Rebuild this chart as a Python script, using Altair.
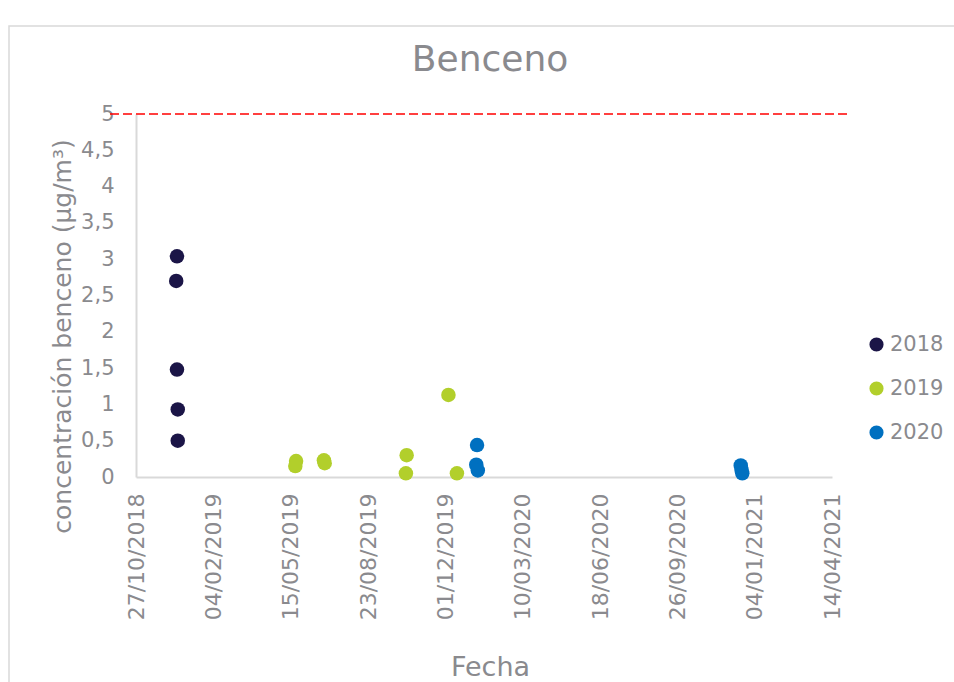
import altair as alt
import pandas as pd

# Benzene concentration samples (µg/m³) by campaign year
fechas_2018 = ["2018-12-19", "2018-12-18", "2018-12-19", "2018-12-20", "2018-12-20"]
valores_2018 = [3.04, 2.70, 1.48, 0.93, 0.50]

fechas_2019 = ["2019-05-22", "2019-05-21", "2019-06-27", "2019-06-28",
               "2019-10-12", "2019-10-11", "2019-12-05", "2019-12-16"]
valores_2019 = [0.22, 0.15, 0.23, 0.19, 0.30, 0.05, 1.13, 0.05]

fechas_2020 = ["2020-01-11", "2020-01-10", "2020-01-12",
               "2020-12-17", "2020-12-18", "2020-12-19"]
valores_2020 = [0.44, 0.17, 0.09, 0.16, 0.10, 0.05]

series = ["2018", "2019", "2020"]
colores = ["#1b1547", "#b2cf2b", "#0070c0"]

# x-axis tick dates, every 100 days
ticks_x = ["2018-10-27", "2019-02-04", "2019-05-15", "2019-08-23", "2019-12-01",
           "2020-03-10", "2020-06-18", "2020-09-26", "2021-01-04", "2021-04-14"]
ticks_y = [0, 0.5, 1, 1.5, 2, 2.5, 3, 3.5, 4, 4.5, 5]
valor_limite = 5
titulo = "Benceno"

filas = []
for serie, fechas, valores in [("2018", fechas_2018, valores_2018),
                               ("2019", fechas_2019, valores_2019),
                               ("2020", fechas_2020, valores_2020)]:
    for f, v in zip(fechas, valores):
        filas.append({"fecha": f + "T00:00:00", "valor": v, "serie": serie})
df = pd.DataFrame(filas)


def dt(s):
    y, m, d = (int(p) for p in s.split("-"))
    return alt.DateTime(year=y, month=m, date=d)


GRIS = "#8a8a8e"
FUENTE = "DejaVu Sans"
W, H = 696, 363

x_enc = alt.X(
    "fecha:T",
    scale=alt.Scale(domain=[dt(ticks_x[0]), dt(ticks_x[-1])]),
    axis=alt.Axis(
        title="Fecha",
        values=[dt(t) for t in ticks_x],
        format="%d/%m/%Y",
        labelAngle=270,
        labelAlign="right",
        labelBaseline="middle",
        labelPadding=16,
        labelFontSize=22,
        labelColor=GRIS,
        labelFont=FUENTE,
        labelOverlap=False,
        ticks=False,
        grid=False,
        domainColor="#d9d9d9",
        domainWidth=2,
        titleFontSize=27,
        titleFontWeight="normal",
        titleColor=GRIS,
        titleFont=FUENTE,
        titleX=354,
        titleY=190,
        titleAlign="center",
        titleBaseline="middle",
    ),
)

escala_y = alt.Scale(domain=[0, 5], nice=False)
eje_y = alt.Axis(
    title="concentración benceno (µg/m³)",
    values=ticks_y,
    labelExpr="replace(format(datum.value, '.1~f'), '.', ',')",
    labelOverlap=False,
    labelPadding=22,
    labelFontSize=21,
    labelColor=GRIS,
    labelFont=FUENTE,
    ticks=False,
    grid=False,
    domainColor="#d9d9d9",
    domainWidth=2,
    titleFontSize=25,
    titleFontWeight="normal",
    titleColor=GRIS,
    titleFont=FUENTE,
    titleAngle=270,
    titleX=-74,
    titleY=222,
    titleAlign="center",
    titleBaseline="middle",
)

puntos = alt.Chart(df).mark_circle(size=210, opacity=1).encode(
    x=x_enc,
    y=alt.Y("valor:Q", scale=escala_y, axis=eje_y),
    color=alt.Color(
        "serie:N",
        scale=alt.Scale(domain=series, range=colores),
        legend=alt.Legend(
            title=None,
            orient="none",
            legendX=730,
            legendY=220,
            symbolType="circle",
            symbolSize=200,
            symbolStrokeWidth=0,
            labelFontSize=21,
            labelColor=GRIS,
            labelFont=FUENTE,
            labelOffset=3,
            rowPadding=22,
            padding=0,
        ),
    ),
)

# Limit value line (5 µg/m³)
limite = alt.Chart(pd.DataFrame({"limite": [valor_limite]})).mark_rule(
    color="#ff0000", strokeWidth=1.5, strokeDash=[9, 4]
).encode(
    y=alt.Y("limite:Q", scale=escala_y, axis=eje_y),
    x=alt.value(-26),
    x2=alt.value(712),
)

# Outer chart frame
marco = alt.Chart(pd.DataFrame({"k": [0]})).mark_rect(
    fill="transparent", stroke="#d9d9d9", strokeWidth=1.5
).encode(
    x=alt.value(-127),
    x2=alt.value(840),
    y=alt.value(-88),
    y2=alt.value(590),
)

# Chart title
cabecera = alt.Chart(pd.DataFrame({"t": [titulo]})).mark_text(
    fontSize=36, color=GRIS, font=FUENTE, align="center", baseline="middle"
).encode(
    text="t:N",
    x=alt.value(354),
    y=alt.value(-54),
)

chart = alt.layer(marco, puntos, limite, cabecera).properties(
    width=W,
    height=H,
    background="white",
    autosize=alt.AutoSizeParams(type="none"),
    padding={"left": 136, "top": 114, "right": 122, "bottom": 205},
).configure_view(stroke=None)

chart.save("out.html", embed_options={"renderer": "svg", "actions": False})
